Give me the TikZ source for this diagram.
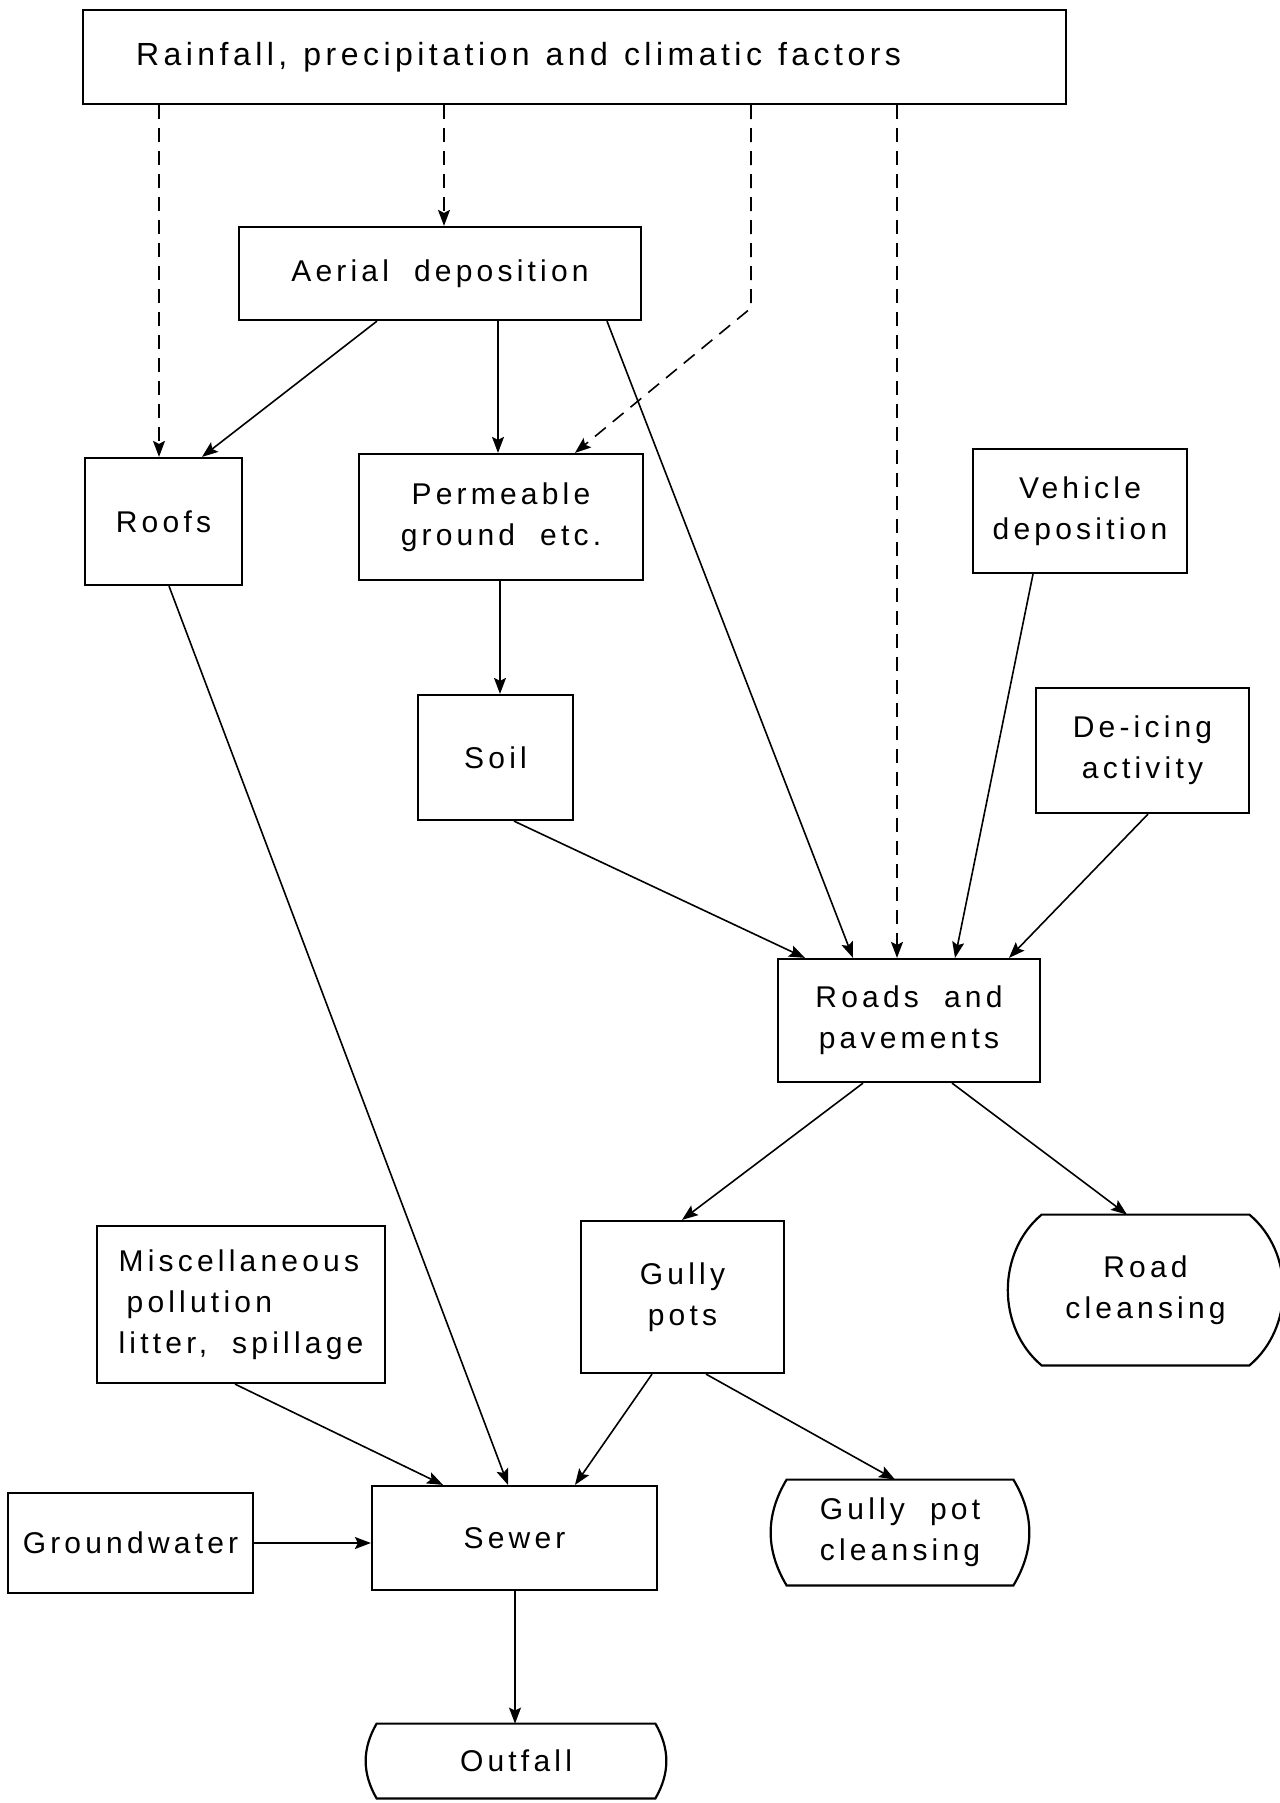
\documentclass[tikz,border=0pt]{standalone}
\usepackage{fontspec}
\setmainfont{Liberation Sans}[LetterSpace=14,WordSpace=2]
\usetikzlibrary{arrows.meta}

\tikzset{
  box/.style={draw, line width=1.1pt, inner sep=0pt, align=center},
  term/.style={inner sep=0pt, align=center},
  flow/.style={-{Stealth[length=8pt,width=6pt,inset=1.5pt]}, line width=0.8pt},
  rainflow/.style={flow, dash pattern=on 7pt off 4.5pt},
}

\begin{document}
\begin{tikzpicture}[x=0.5pt, y=-0.5pt, font=\fontsize{15}{20.5}\selectfont]
  \useasboundingbox (0,0) rectangle (1279,1803);
  % sources
  \node[box, inner xsep=26.5pt, text width=438.5pt, align=left, minimum height=47pt,
        font=\fontsize{16}{20.5}\selectfont]
    (rain) at (574.5,57) {\spaceskip=8pt plus 1pt\relax Rainfall, precipitation and climatic factors};
  \node[box, minimum width=201pt, minimum height=46.5pt] (aerial) at (440,273.5) {Aerial deposition};
  \node[box, minimum width=78.5pt, minimum height=63.5pt] (roofs) at (163.5,521.5) {Roofs};
  \node[box, minimum width=142pt, minimum height=63pt] (perm) at (501,517) {Permeable\\ground etc.};
  \node[box, minimum width=107pt, minimum height=62pt] (vehicle) at (1080,511) {Vehicle\\deposition};
  \node[box, minimum width=77.5pt, minimum height=62.5pt] (soil) at (495.5,757.5) {Soil};
  \node[box, minimum width=106.5pt, minimum height=62.5pt] (deicing) at (1142.5,750.5) {De-icing\\activity};
  \node[box, minimum width=131pt, minimum height=61.5pt] (roads) at (909,1020.5) {Roads and\\pavements};
  \node[box, minimum width=144pt, minimum height=78.5pt, align=left] (misc) at (241,1304.5)
    {Miscellaneous\\\hspace{4pt}pollution\\litter, spillage};
  \node[box, minimum width=101.5pt, minimum height=76pt] (gully) at (682.5,1297) {Gully\\pots};
  \node[box, minimum width=122.5pt, minimum height=50pt] (ground) at (130.5,1543) {Groundwater};
  \node[box, minimum width=142.5pt, minimum height=52pt] (sewer) at (514.5,1538) {Sewer};
  % end points
  \node[term, minimum width=103.5pt, minimum height=75pt] (roadclean) at (1145.5,1290) {Road\\cleansing};
  \node[term, minimum width=113pt, minimum height=52.5pt] (gpclean) at (900,1532.5) {Gully pot\\cleansing};
  \node[term, minimum width=139pt, minimum height=37pt] (outfall) at (516,1761) {Outfall};
  \foreach \n/\b in {roadclean/50, gpclean/31, outfall/30}
    \draw[line width=1.1pt] (\n.north west) -- (\n.north east) to[bend left=\b] (\n.south east)
      -- (\n.south west) to[bend left=\b] (\n.north west) -- cycle;

  % rainfall (dashed)
  \coordinate (kink) at (751,308);
  \draw[rainflow] (159,0 |- rain.south) -- (159,0 |- roofs.north);
  \draw[rainflow] (444,0 |- rain.south) -- (444,0 |- aerial.north);
  \draw[rainflow] (751,0 |- rain.south) -- (kink) -- (575,0 |- perm.north);
  \draw[rainflow] (897,0 |- rain.south) -- (897,0 |- roads.north);

  % deposition paths
  \draw[flow] (377,0 |- aerial.south) -- (202,0 |- roofs.north);
  \draw[flow] (498,0 |- aerial.south) -- (498,0 |- perm.north);
  \draw[flow] (607,0 |- aerial.south) -- (853,0 |- roads.north);
  \draw[flow] (500,0 |- perm.south) -- (500,0 |- soil.north);
  \draw[flow] (514,0 |- soil.south) -- (805,0 |- roads.north);
  \draw[flow] (1033,0 |- vehicle.south) -- (955,0 |- roads.north);
  \draw[flow] (1148,0 |- deicing.south) -- (1009,0 |- roads.north);
  \draw[flow] (169,0 |- roofs.south) -- (508,0 |- sewer.north);

  % roads to gullies and sewer
  \draw[flow] (863,0 |- roads.south) -- (682,0 |- gully.north);
  \draw[flow] (952,0 |- roads.south) -- (1127,0 |- roadclean.north);
  \draw[flow] (235,0 |- misc.south) -- (443,0 |- sewer.north);
  \draw[flow] (652,0 |- gully.south) -- (575,0 |- sewer.north);
  \draw[flow] (706,0 |- gully.south) -- (895,0 |- gpclean.north);
  \draw[flow] (ground.east) -- (ground.east -| sewer.west);
  \draw[flow] (515,0 |- sewer.south) -- (515,0 |- outfall.north);
\end{tikzpicture}
\end{document}
